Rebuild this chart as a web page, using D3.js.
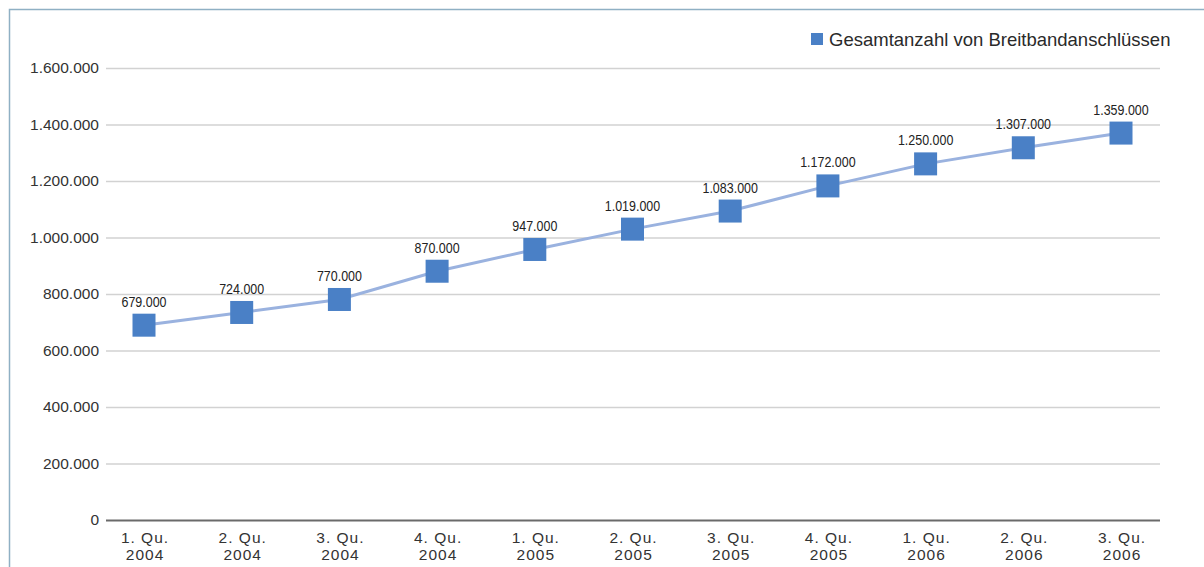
<!DOCTYPE html>
<html>
<head>
<meta charset="utf-8">
<script src="https://cdn.jsdelivr.net/npm/d3@7"></script>
<style>
  html, body { margin: 0; padding: 0; background: #fff; }
  svg { display: block; }
  text { font-family: "Liberation Sans", Arial, sans-serif; }
</style>
</head>
<body>
<svg id="chart" width="1204" height="567"></svg>
<script>
const categories = ["1. Qu.|2004","2. Qu.|2004","3. Qu.|2004","4. Qu.|2004","1. Qu.|2005","2. Qu.|2005","3. Qu.|2005","4. Qu.|2005","1. Qu.|2006","2. Qu.|2006","3. Qu.|2006"];
const values = [679000, 724000, 770000, 870000, 947000, 1019000, 1083000, 1172000, 1250000, 1307000, 1359000];
const yTicks = [0, 200000, 400000, 600000, 800000, 1000000, 1200000, 1400000, 1600000];
const seriesName = "Gesamtanzahl von Breitbandanschlüssen";

const W = 1204, H = 567;
const plot = { left: 106, right: 1160, top: 68, bottom: 520 };
const svg = d3.select("#chart");
const fmt = d => d3.formatLocale({decimal: ",", thousands: ".", grouping: [3], currency: ["", "€"]}).format(",")(d);

// frame
svg.append("path")
  .attr("d", `M9.5,${H} L9.5,9.5 L${W},9.5`)
  .attr("fill", "none").attr("stroke", "#8fb0c4").attr("stroke-width", 1.5);

const x = d3.scalePoint().domain(categories).range([144, 1121]);
const y = d3.scaleLinear().domain([0, 1600000]).range([plot.bottom, plot.top]);

// gridlines + y labels
const yAxis = d3.axisLeft(y).tickValues(yTicks).tickFormat(fmt)
  .tickSize(-(plot.right - plot.left)).tickPadding(7);
const gy = svg.append("g").attr("transform", `translate(${plot.left},0)`).call(yAxis);
gy.select(".domain").remove();
gy.selectAll(".tick line").attr("stroke", "#d2d2d2").attr("stroke-width", 1.5);
gy.selectAll(".tick text").attr("fill", "#333").style("font-size", "15.5px")
  .style("font-family", "'Liberation Sans', Arial, sans-serif");
gy.selectAll(".tick").filter(d => d === 0).select("line").attr("stroke", "#6a6a6a").attr("stroke-width", 2);

// x labels
const xAxis = d3.axisBottom(x).tickSize(0).tickFormat(() => "");
const gx = svg.append("g").attr("transform", `translate(0,${plot.bottom})`).call(xAxis);
gx.select(".domain").remove();
gx.selectAll(".tick").each(function(d) {
  const parts = d.split("|");
  const g = d3.select(this);
  [parts[0], parts[1]].forEach((p, i) => {
    g.append("text")
      .attr("x", 0.5).attr("y", i === 0 ? 22.5 : 40)
      .attr("fill", "#333").attr("text-anchor", "middle")
      .style("font-size", "15.5px").style("letter-spacing", "1px")
      .style("font-family", "'Liberation Sans', Arial, sans-serif")
      .text(p);
  });
});

// line
const data = categories.map((c, i) => ({ c, v: values[i] }));
svg.append("path").datum(data)
  .attr("fill", "none").attr("stroke", "#9ab2df").attr("stroke-width", 3)
  .attr("d", d3.line().x(d => x(d.c)).y(d => y(d.v) - 3));

// markers
const ms = 23;
svg.append("g").selectAll("rect").data(data).join("rect")
  .attr("x", d => x(d.c) - ms / 2).attr("y", d => y(d.v) - 3 - ms / 2)
  .attr("width", ms).attr("height", ms).attr("fill", "#4a80c6");

// data labels (condensed)
svg.append("g").selectAll("text").data(data).join("text")
  .attr("transform", d => `translate(${x(d.c)},${y(d.v) - 3 - ms / 2 - 7}) scale(0.86,1)`)
  .attr("text-anchor", "middle").attr("fill", "#222")
  .style("font-size", "14.5px")
  .text(d => fmt(d.v));

// legend
const lg = svg.append("g").attr("transform", "translate(811,33)");
lg.append("rect").attr("width", 12).attr("height", 12).attr("fill", "#4a80c6");
lg.append("text").attr("x", 18).attr("y", 12.5).attr("fill", "#2a2a2a")
  .style("font-size", "18.5px").text(seriesName);
</script>
</body>
</html>
